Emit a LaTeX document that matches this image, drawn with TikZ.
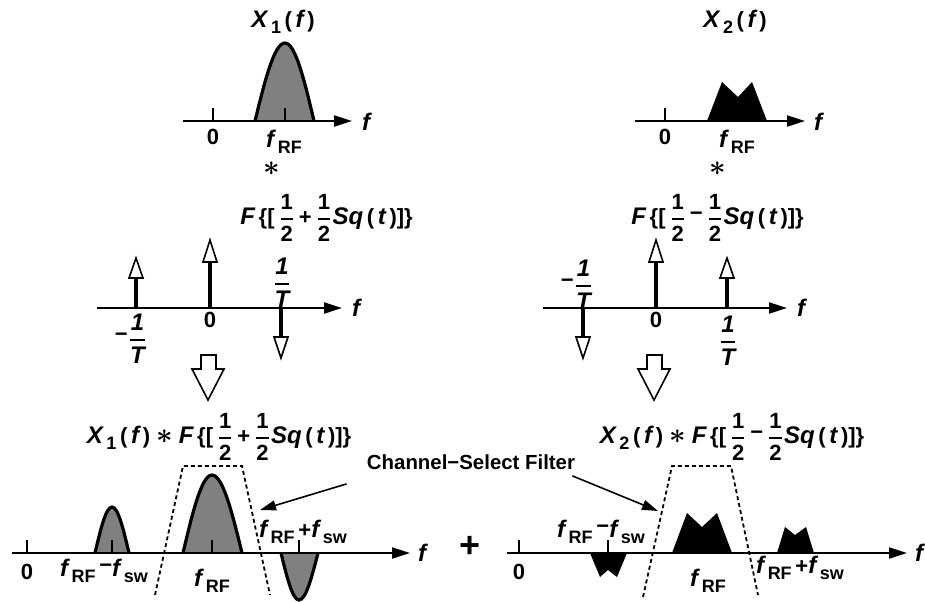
\documentclass[tikz,border=0pt]{standalone}
\usepackage{fontspec}
\setmainfont{Liberation Sans}
\usepackage{amsmath}
\usepackage{bm}
\usetikzlibrary{arrows.meta}

\newcommand{\vr}[1]{{\fontsize{12}{14}\selectfont\itshape #1}}
\newcommand{\sub}[1]{\raisebox{-0.55ex}{\fontsize{9}{10}\selectfont #1}}
\newcommand{\fr}[2]{$\genfrac{}{}{1pt}{0}{\hbox{#1}}{\hbox{#2}}$}
\newcommand{\conv}{{\fontsize{14}{14}\selectfont$\bm{\ast}$}}
\newcommand{\mn}{\raisebox{0.35ex}{\textminus}}

\begin{document}
\begin{tikzpicture}[x=0.5pt, y=-0.5pt,
    axis/.style={line width=1pt, -{Triangle[length=9pt,width=5.5pt]}},
    tick/.style={line width=1pt},
    stem/.style={line width=2pt},
    head/.style={line width=0.8pt, fill=white, line join=miter},
    bump/.style={line width=1.6pt, fill=black!50},
    filter/.style={line width=0.9pt, dash pattern=on 2pt off 1.5pt},
    pointer/.style={line width=0.8pt, -{Triangle[length=8pt,width=5pt]}},
    lbl/.style={font=\fontsize{11}{13}\selectfont\bfseries, inner sep=0pt}]
    \useasboundingbox (0,0) rectangle (925,601);

    % Top left: X1(f)
    \draw[bump] (255,121) sin (285,43) cos (314,121);
    \draw[axis] (183,121) -- (352,121);
    \draw[tick] (213,108) -- (213,121);
    \draw[tick] (285,108) -- (285,121);
    \node[lbl] (ttlA) at (283,22) {\vr{X}\,\sub{1}\,(\,\vr{f}\,)};
    \node[lbl] (zA) at (213,137) {0};
    \node[lbl] (rfA) at (284,142) {\vr{f}\,\sub{RF}};
    \node[lbl, anchor=north] (cvA) at (272,161) {\conv};
    \node[lbl] (fA) at (366,122) {\vr{f}};

    % Top right: X2(f)
    \fill (707,121) -- (722,82) -- (738,97) -- (752,82) -- (767,121) -- cycle;
    \draw[axis] (635,121) -- (805,121);
    \draw[tick] (665,108) -- (665,121);
    \node[lbl] (ttlB) at (735,22) {\vr{X}\,\sub{2}\,(\,\vr{f}\,)};
    \node[lbl] (zB) at (665,137) {0};
    \node[lbl] (rfB) at (737,142) {\vr{f}\,\sub{RF}};
    \node[lbl, anchor=north] (cvB) at (718,161) {\conv};
    \node[lbl] (fB) at (818,122) {\vr{f}};

    % Middle: impulse trains
    \draw[axis] (97,308) -- (342,308);
    \draw[axis] (543,308) -- (787,308);
    \foreach \x/\s/\t in {136/278/258, 210/262/240, 281/337/358,
                          583/337/358, 656/262/240, 727/278/258} {
        \draw[stem] (\x,308) -- (\x,\s);
        \draw[head] (\x-7,\s) -- (\x+7,\s) -- (\x,\t) -- cycle;
    }
    \node[lbl, anchor=west] (sqA) at (240,218)
        {\vr{F}\,\{[\,\fr{1}{2}\,+\,\fr{1}{2}\vr{Sq}\,(\,\vr{t}\,)]\}};
    \node[lbl] (mA) at (131,339) {\mn\fr{\vr{1}}{\vr{T}}};
    \node[lbl] (oA) at (210,320) {0};
    \node[lbl] (pA) at (282,283) {\fr{\vr{1}}{\vr{T}}};
    \node[lbl] (fC) at (356,308) {\vr{f}};
    \node[lbl, anchor=west] (sqB) at (631,218)
        {\vr{F}\,\{[\,\fr{1}{2}\,\mn\,\fr{1}{2}\vr{Sq}\,(\,\vr{t}\,)]\}};
    \node[lbl] (mB) at (577,285) {\mn\fr{\vr{1}}{\vr{T}}};
    \node[lbl] (oB) at (656,320) {0};
    \node[lbl] (pB) at (728,341) {\fr{\vr{1}}{\vr{T}}};
    \node[lbl] (fD) at (801,308) {\vr{f}};

    % Hollow arrows
    \draw[head] (201,355) -- (216,355) -- (216,369) -- (224,369) -- (208,400)
        -- (192,369) -- (201,369) -- cycle;
    \draw[head] (647,355) -- (662,355) -- (662,369) -- (670,369) -- (654,400)
        -- (638,369) -- (647,369) -- cycle;

    % Bottom left: X1(f) * F{...}
    \draw[bump] (95,553) sin (112,507) cos (129,553);
    \draw[bump] (183,553) sin (212,475) cos (242,553);
    \draw[bump] (281,553) sin (299,600) cos (318,553);
    \draw[axis] (12,553) -- (410,553);
    \foreach \x in {27,112,212,299}
        \draw[tick] (\x,540) -- (\x,553);
    \draw[filter] (155,595) -- (183,466) -- (242,466) -- (270,595);
    \node[lbl] (ttlC) at (219,437)
        {\vr{X}\,\sub{1}\,(\,\vr{f}\,)\;\conv\;\vr{F}\,\{[\,\fr{1}{2}\,+\,\fr{1}{2}\vr{Sq}\,(\,\vr{t}\,)]\}};
    \node[lbl] (zC) at (27,572) {0};
    \node[lbl] (loC) at (104,571) {\vr{f}\,\sub{RF}\,\mn\vr{f}\,\sub{sw}};
    \node[lbl] (rfC) at (212,581) {\vr{f}\,\sub{RF}};
    \node[lbl] (hiC) at (303,532) {\vr{f}\,\sub{RF}\,+\vr{f}\,\sub{sw}};
    \node[lbl] (fE) at (422,553) {\vr{f}};

    % Bottom right: X2(f) * F{...}
    \fill (590,553) -- (600,577) -- (608,570) -- (617,577) -- (627,553) -- cycle;
    \fill (672,553) -- (687,513) -- (702,527) -- (717,513) -- (732,553) -- cycle;
    \fill (777,553) -- (785,527) -- (795,535) -- (806,527) -- (814,553) -- cycle;
    \draw[axis] (507,553) -- (907,553);
    \foreach \x in {519,608}
        \draw[tick] (\x,540) -- (\x,553);
    \draw[filter] (643,597) -- (672,466) -- (731,466) -- (758,595);
    \node[lbl] (ttlD) at (732,437)
        {\vr{X}\,\sub{2}\,(\,\vr{f}\,)\;\conv\;\vr{F}\,\{[\,\fr{1}{2}\,\mn\,\fr{1}{2}\vr{Sq}\,(\,\vr{t}\,)]\}};
    \node[lbl] (zD) at (519,572) {0};
    \node[lbl] (loD) at (601,532) {\vr{f}\,\sub{RF}\,\mn\vr{f}\,\sub{sw}};
    \node[lbl] (rfD) at (708,581) {\vr{f}\,\sub{RF}};
    \node[lbl] (hiD) at (800,568) {\vr{f}\,\sub{RF}\,+\vr{f}\,\sub{sw}};
    \node[lbl] (fF) at (919,553) {\vr{f}};
    \node[lbl, font=\fontsize{18}{18}\selectfont\bfseries] (plus) at (470,547) {+};

    % Channel-select filter label
    \node[lbl, font=\fontsize{10.2}{12}\selectfont\bfseries] (csf) at (471,462) {Channel\textminus Select Filter};
    \coordinate (tipA) at (260,510);
    \coordinate (tipB) at (658,511);
    \draw[pointer] ([shift={(-20,14)}]csf.south west) -- (tipA);
    \draw[pointer] ([shift={(-3,6)}]csf.south east) -- (tipB);
\end{tikzpicture}
\end{document}
